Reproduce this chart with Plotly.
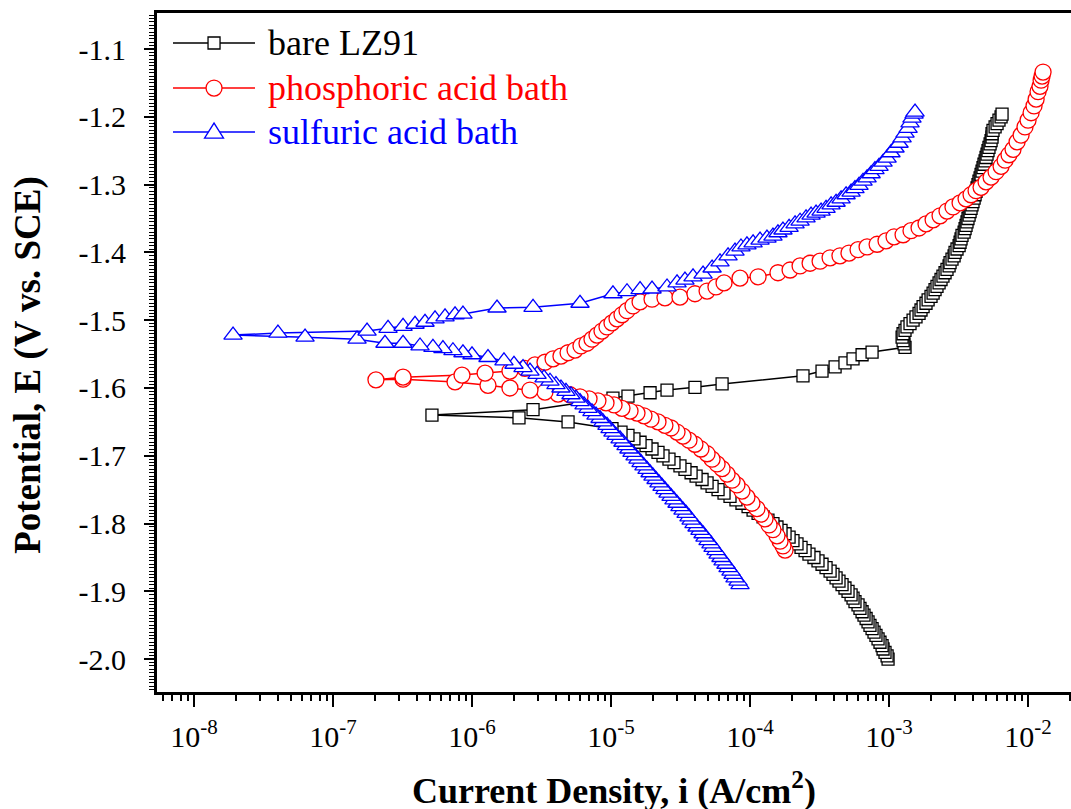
import numpy as np
import plotly.graph_objects as go

# ---------------- data (potential E in V vs SCE, log10 of current density in A/cm^2) -------------
bare_E = [-2.000, -1.995, -1.990, -1.985, -1.980, -1.975, -1.970, -1.965, -1.960, -1.955,
          -1.950, -1.945, -1.940, -1.935, -1.930, -1.925, -1.920, -1.915, -1.910, -1.905,
          -1.900, -1.895, -1.890, -1.885, -1.880, -1.875, -1.870, -1.865, -1.860, -1.855,
          -1.850, -1.845, -1.840, -1.835, -1.830, -1.825, -1.820, -1.815, -1.810, -1.805,
          -1.800, -1.795, -1.790, -1.785, -1.780, -1.775, -1.770, -1.765, -1.760, -1.755,
          -1.750, -1.745, -1.740, -1.735, -1.730, -1.725, -1.720, -1.715, -1.710, -1.705,
          -1.700, -1.695, -1.690, -1.685, -1.680, -1.675, -1.670, -1.665, -1.660, -1.650,
          -1.644, -1.640,
          -1.632, -1.615, -1.612, -1.607, -1.603, -1.599, -1.594, -1.582, -1.575, -1.569,
          -1.563, -1.557, -1.551, -1.547,
          -1.540, -1.535, -1.530, -1.525, -1.520, -1.515, -1.510, -1.505, -1.500, -1.495,
          -1.490, -1.485, -1.480, -1.475, -1.470, -1.465, -1.460, -1.455, -1.450, -1.445,
          -1.440, -1.435, -1.430, -1.425, -1.420, -1.415, -1.410, -1.405, -1.400, -1.395,
          -1.390, -1.385, -1.380, -1.375, -1.370, -1.365, -1.360, -1.355, -1.350, -1.345,
          -1.340, -1.335, -1.330, -1.325, -1.320, -1.315, -1.310, -1.305, -1.300, -1.295,
          -1.290, -1.285, -1.280, -1.275, -1.270, -1.265, -1.260, -1.255, -1.250, -1.245,
          -1.240, -1.235, -1.230, -1.225, -1.220, -1.215, -1.210, -1.205, -1.200, -1.196]
bare_logi = [-3.007, -3.014, -3.029, -3.043, -3.050, -3.065, -3.079, -3.094, -3.108, -3.122,
             -3.137, -3.151, -3.165, -3.180, -3.194, -3.209, -3.223, -3.245, -3.259, -3.273,
             -3.295, -3.317, -3.338, -3.360, -3.381, -3.403, -3.424, -3.453, -3.482, -3.511,
             -3.540, -3.576, -3.604, -3.633, -3.662, -3.691, -3.719, -3.748, -3.777, -3.806,
             -3.835, -3.871, -3.906, -3.942, -3.978, -4.014, -4.058, -4.101, -4.144, -4.187,
             -4.230, -4.273, -4.309, -4.345, -4.388, -4.424, -4.468, -4.504, -4.547, -4.583,
             -4.626, -4.662, -4.705, -4.748, -4.791, -4.835, -4.878, -4.928, -4.993, -5.309,
             -5.662, -6.288,
             -5.561, -4.986, -4.878, -4.719, -4.597, -4.396, -4.201, -3.619, -3.482, -3.388,
             -3.317, -3.259, -3.194, -3.122,
             -2.885, -2.892, -2.899, -2.906, -2.899, -2.885, -2.871, -2.849, -2.827, -2.806,
             -2.784, -2.770, -2.755, -2.734, -2.719, -2.698, -2.683, -2.669, -2.655, -2.640,
             -2.626, -2.612, -2.597, -2.583, -2.568, -2.561, -2.547, -2.532, -2.525, -2.511,
             -2.496, -2.489, -2.482, -2.475, -2.460, -2.453, -2.446, -2.439, -2.432, -2.424,
             -2.417, -2.410, -2.403, -2.396, -2.388, -2.381, -2.374, -2.367, -2.360, -2.353,
             -2.345, -2.338, -2.331, -2.324, -2.317, -2.309, -2.302, -2.295, -2.288, -2.281,
             -2.273, -2.266, -2.259, -2.259, -2.252, -2.237, -2.223, -2.209, -2.194, -2.187]

phos_E = [-1.839, -1.833, -1.826, -1.818, -1.809, -1.802, -1.793, -1.786, -1.778, -1.770,
          -1.761, -1.752, -1.743, -1.736, -1.727, -1.719, -1.712, -1.705, -1.697, -1.690,
          -1.683, -1.677, -1.671, -1.665, -1.659, -1.655, -1.650, -1.646, -1.641, -1.637,
          -1.634, -1.630, -1.625, -1.622, -1.619, -1.616, -1.613, -1.610, -1.609, -1.606,
          -1.603, -1.600, -1.596, -1.591, -1.587, -1.588,
          -1.584, -1.581, -1.578, -1.575, -1.571, -1.566, -1.562, -1.557, -1.553, -1.548,
          -1.544, -1.538, -1.534, -1.528, -1.522, -1.516, -1.510, -1.504, -1.498, -1.492,
          -1.486, -1.479, -1.473, -1.469, -1.467, -1.466, -1.461, -1.457, -1.451, -1.445,
          -1.438, -1.436, -1.430, -1.426, -1.420, -1.416, -1.413, -1.408, -1.405, -1.401,
          -1.396, -1.392, -1.388, -1.383, -1.377, -1.374, -1.368, -1.364, -1.358, -1.352,
          -1.346, -1.339, -1.333, -1.327, -1.321, -1.315, -1.309, -1.304, -1.296, -1.289,
          -1.281, -1.273, -1.264, -1.256, -1.248, -1.237, -1.227, -1.215, -1.205, -1.194,
          -1.184, -1.174, -1.163, -1.155, -1.146, -1.140, -1.134]
phos_logi = [-3.748, -3.763, -3.784, -3.806, -3.835, -3.863, -3.892, -3.921, -3.950, -3.986,
             -4.022, -4.058, -4.094, -4.129, -4.165, -4.201, -4.237, -4.273, -4.309, -4.353,
             -4.396, -4.439, -4.482, -4.525, -4.568, -4.612, -4.662, -4.712, -4.763, -4.813,
             -4.863, -4.921, -4.978, -5.036, -5.094, -5.158, -5.223, -5.295, -5.381, -5.475,
             -5.583, -5.727, -5.885, -6.122, -6.496, -6.691,
             -6.496, -6.072, -5.906, -5.727, -5.619, -5.547, -5.475, -5.417, -5.360, -5.309,
             -5.259, -5.216, -5.173, -5.137, -5.101, -5.065, -5.029, -4.993, -4.957, -4.921,
             -4.885, -4.842, -4.791, -4.705, -4.612, -4.504, -4.396, -4.309, -4.245, -4.187,
             -4.072, -3.942, -3.799, -3.712, -3.640, -3.568, -3.496, -3.424, -3.353, -3.288,
             -3.223, -3.158, -3.086, -3.022, -2.964, -2.899, -2.842, -2.784, -2.734, -2.683,
             -2.633, -2.583, -2.540, -2.489, -2.446, -2.410, -2.374, -2.338, -2.302, -2.266,
             -2.230, -2.194, -2.165, -2.137, -2.108, -2.079, -2.050, -2.022, -2.000, -1.978,
             -1.957, -1.942, -1.928, -1.914, -1.906, -1.899, -1.892]

sulf_E = [-1.890, -1.885, -1.880, -1.875, -1.870, -1.865, -1.860, -1.855, -1.850, -1.845,
          -1.840, -1.835, -1.830, -1.825, -1.820, -1.815, -1.810, -1.805, -1.800, -1.795,
          -1.790, -1.785, -1.780, -1.775, -1.770, -1.765, -1.760, -1.755, -1.750, -1.745,
          -1.740, -1.735, -1.730, -1.725, -1.720, -1.715, -1.710, -1.705, -1.700, -1.695,
          -1.690, -1.685, -1.680, -1.675, -1.670, -1.665, -1.660, -1.655, -1.650, -1.645,
          -1.640, -1.635, -1.630, -1.625, -1.620, -1.615, -1.610, -1.605, -1.600, -1.595,
          -1.590, -1.585, -1.580, -1.575, -1.570, -1.565, -1.560, -1.555,
          -1.551, -1.548, -1.545, -1.542, -1.540, -1.538, -1.534, -1.534, -1.528, -1.525,
          -1.522,
          -1.519, -1.516, -1.512, -1.509, -1.506, -1.503, -1.498, -1.495, -1.492, -1.491,
          -1.482, -1.481, -1.475, -1.461, -1.458, -1.455, -1.454, -1.451, -1.445, -1.441,
          -1.436, -1.432, -1.423, -1.414, -1.405, -1.398, -1.392, -1.389, -1.386, -1.382,
          -1.379, -1.376, -1.371, -1.367, -1.363, -1.358, -1.354, -1.349, -1.345, -1.342,
          -1.339, -1.335, -1.330, -1.326, -1.321, -1.315, -1.311, -1.306, -1.301, -1.295,
          -1.290, -1.284, -1.278, -1.273, -1.267, -1.261, -1.253, -1.246, -1.239, -1.231,
          -1.224, -1.217, -1.209, -1.202, -1.196, -1.193]
sulf_logi = [-4.072, -4.086, -4.108, -4.122, -4.137, -4.158, -4.173, -4.194, -4.209, -4.230,
             -4.245, -4.266, -4.281, -4.302, -4.324, -4.338, -4.360, -4.381, -4.403, -4.424,
             -4.439, -4.460, -4.482, -4.504, -4.525, -4.547, -4.568, -4.590, -4.612, -4.633,
             -4.655, -4.676, -4.698, -4.719, -4.741, -4.763, -4.784, -4.806, -4.827, -4.849,
             -4.871, -4.892, -4.914, -4.935, -4.964, -4.986, -5.007, -5.029, -5.058, -5.079,
             -5.108, -5.137, -5.165, -5.194, -5.223, -5.252, -5.288, -5.324, -5.360, -5.396,
             -5.439, -5.482, -5.532, -5.583, -5.633, -5.698, -5.770, -5.885,
             -6.000, -6.065, -6.137, -6.209, -6.281, -6.374, -6.496, -6.626, -6.827, -7.201,
             -7.719,
             -7.396, -6.755, -6.604, -6.496, -6.410, -6.338, -6.266, -6.194, -6.122, -6.065,
             -5.820, -5.561, -5.223, -4.986, -4.885, -4.791, -4.705, -4.597, -4.525, -4.468,
             -4.410, -4.338, -4.273, -4.216, -4.158, -4.108, -4.065, -4.022, -3.978, -3.928,
             -3.878, -3.835, -3.799, -3.763, -3.719, -3.676, -3.640, -3.597, -3.561, -3.525,
             -3.489, -3.453, -3.417, -3.381, -3.345, -3.309, -3.273, -3.245, -3.216, -3.187,
             -3.158, -3.129, -3.101, -3.072, -3.043, -3.014, -2.986, -2.957, -2.928, -2.906,
             -2.885, -2.863, -2.849, -2.835, -2.820, -2.813]

series_names = ["bare LZ91", "phosphoric acid bath", "sulfuric acid bath"]
series_colors = ["#000000", "#FF0000", "#0000FF"]
series_symbols = ["square", "circle", "triangle-up"]
series_sizes = [12, 16, 16]

x_tick_exponents = [-8, -7, -6, -5, -4, -3, -2]
y_tick_values = [-1.1, -1.2, -1.3, -1.4, -1.5, -1.6, -1.7, -1.8, -1.9, -2.0]
y_tick_labels = ["-1.1", "-1.2", "-1.3", "-1.4", "-1.5", "-1.6", "-1.7", "-1.8", "-1.9", "-2.0"]

# ---------------- figure -------------
FONT = "Liberation Serif, Times New Roman, serif"
W, H = 1071, 809
L, R, T, B = 157, 0, 13, 117

fig = go.Figure()
all_E = [bare_E, phos_E, sulf_E]
all_logi = [bare_logi, phos_logi, sulf_logi]
for name, col, sym, sz, E, lg in zip(series_names, series_colors, series_symbols,
                                     series_sizes, all_E, all_logi):
    fig.add_trace(go.Scatter(
        x=10 ** np.array(lg), y=E, mode="lines+markers", name=name,
        line=dict(color=col, width=1.5),
        marker=dict(symbol=sym, size=sz, color="white",
                    line=dict(color=col, width=1.3)),
        showlegend=False))

# minor ticks on log axis: 2..9 of every decade
minor_x = [m * 10.0 ** e for e in range(-9, -1) for m in range(2, 10)]

fig.update_layout(
    width=W, height=H,
    margin=dict(l=L, r=R, t=T, b=B, pad=0),
    paper_bgcolor="white", plot_bgcolor="white",
    font=dict(family=FONT, color="black"),
    showlegend=False,
    xaxis=dict(
        type="log", range=[-8.266, -1.691],
        showline=True, linecolor="black", linewidth=3, mirror=True,
        showgrid=False, zeroline=False,
        ticks="outside", ticklen=12, tickwidth=2, tickcolor="black",
        tickmode="array",
        tickvals=[10.0 ** e for e in x_tick_exponents],
        ticktext=["10<sup>%d</sup>" % e for e in x_tick_exponents],
        tickfont=dict(family=FONT, size=30, color="black"),
        ticklabelstandoff=4,
        minor=dict(ticks="outside", ticklen=6, tickwidth=2, tickcolor="black",
                   tickmode="array", tickvals=minor_x, showgrid=False),
    ),
    yaxis=dict(
        range=[-2.0484, -1.0469],
        showline=True, linecolor="black", linewidth=3, mirror=False,
        showgrid=False, zeroline=False,
        ticks="outside", ticklen=10, tickwidth=2, tickcolor="black",
        tickmode="array", tickvals=y_tick_values, ticktext=y_tick_labels,
        tickfont=dict(family=FONT, size=30, color="black"),
        ticklabelstandoff=12,
        minor=dict(ticks="outside", ticklen=5, tickwidth=1.2, tickcolor="black",
                   dtick=0.005, tick0=-2.0, showgrid=False),
    ),
)

# axis titles
fig.add_annotation(text="<b>Current Density, i (A/cm<sup>2</sup>)</b>",
                   xref="paper", yref="paper", x=0.5, y=-0.142,
                   xanchor="center", yanchor="middle", showarrow=False,
                   font=dict(family=FONT, size=36, color="black"))
fig.add_annotation(text="<b>Potential, E (V vs. SCE)</b>",
                   xref="paper", yref="paper", x=-0.141, y=0.482,
                   xanchor="center", yanchor="middle", showarrow=False, textangle=-90,
                   font=dict(family=FONT, size=37, color="black"))

# custom legend (sample line + marker + text), placed in paper coordinates
leg_rows = [0.9558, 0.8895, 0.8247]
leg_x0, leg_x1, leg_xm, leg_xt = 0.0175, 0.1072, 0.0624, 0.1193
half = [6, 8, 8]
for i, (name, col, sym) in enumerate(zip(series_names, series_colors, series_symbols)):
    yv = leg_rows[i]
    fig.add_shape(type="line", xref="paper", yref="paper", x0=leg_x0, x1=leg_x1,
                  y0=yv, y1=yv, line=dict(color=col, width=1.5))
    h = half[i]
    common = dict(xref="paper", yref="paper", xsizemode="pixel", ysizemode="pixel",
                  xanchor=leg_xm, yanchor=yv, fillcolor="white",
                  line=dict(color=col, width=1.3))
    if sym == "square":
        fig.add_shape(type="rect", x0=-h, x1=h, y0=-h, y1=h, **common)
    elif sym == "circle":
        fig.add_shape(type="circle", x0=-h, x1=h, y0=-h, y1=h, **common)
    else:
        fig.add_shape(type="path", path="M -9.5 -6 L 9.5 -6 L 0 9 Z", **common)
    fig.add_annotation(text=name, xref="paper", yref="paper", x=leg_xt, y=yv,
                       xanchor="left", yanchor="middle", showarrow=False,
                       font=dict(family=FONT, size=36, color=col))

fig.write_html("out.html")
